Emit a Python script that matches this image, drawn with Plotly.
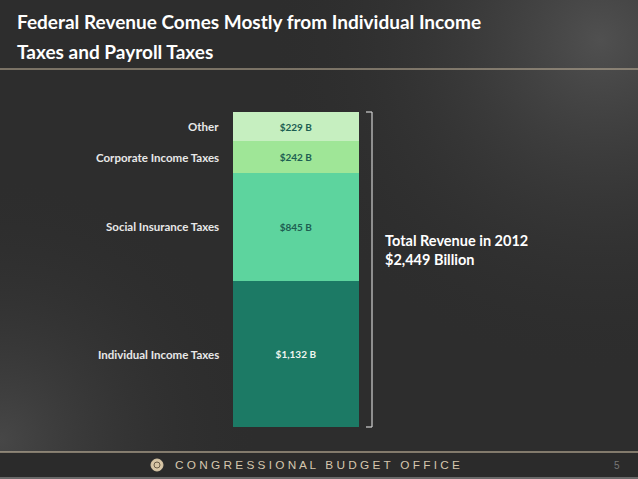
import base64
import plotly.graph_objects as go

categories = ["Individual Income Taxes", "Social Insurance Taxes", "Corporate Income Taxes", "Other"]
values = [1132, 845, 242, 229]
value_labels = ["$1,132 B", "$845 B", "$242 B", "$229 B"]
colors = ["#1c7a65", "#5dd49e", "#9fe697", "#c6efc0"]
text_colors = ["#eef5f0", "#1d5e52", "#1d5e52", "#1d5e52"]
total_label = ["Total Revenue in 2012", "$2,449 Billion"]
title_lines = ["Federal Revenue Comes Mostly from Individual Income", "Taxes and Payroll Taxes"]

W, H = 638, 479
BG = "#2e2e2e"
FONT = "Lato"

# pixel geometry of the bar area
bar_left, bar_right = 233, 359
bar_bottom_px, bar_top_px = 427, 112
total = sum(values)
bw = bar_right - bar_left
xmin = -(bar_left + bw / 2) / bw
xmax = xmin + W / bw
ppu = (bar_bottom_px - bar_top_px) / total
ymin = -(H - bar_bottom_px) / ppu
ymax = total + bar_top_px / ppu

def px(x):
    return x / W

def py(y):
    return 1 - y / H

svg = f"""<svg xmlns='http://www.w3.org/2000/svg' width='{W}' height='{H}'>
<defs>
<radialGradient id='a' cx='600' cy='40' r='330' gradientUnits='userSpaceOnUse'>
<stop offset='0' stop-color='#505050'/><stop offset='1' stop-color='#2e2e2e' stop-opacity='0'/></radialGradient>
<radialGradient id='b' cx='0' cy='440' r='260' gradientUnits='userSpaceOnUse'>
<stop offset='0' stop-color='#474747'/><stop offset='1' stop-color='#2e2e2e' stop-opacity='0'/></radialGradient>
</defs>
<rect width='{W}' height='{H}' fill='#2d2d2d'/>
<rect width='{W}' height='{H}' fill='url(#a)'/>
<rect width='{W}' height='{H}' fill='url(#b)'/>
</svg>"""
bg_src = "data:image/svg+xml;base64," + base64.b64encode(svg.encode()).decode()

fig = go.Figure()
for cat, v, lab, c, tc in zip(categories, values, value_labels, colors, text_colors):
    fig.add_trace(go.Bar(
        x=[0], y=[v], name=cat, width=1,
        marker=dict(color=c, line=dict(width=0)),
        text=["<b>" + lab + "</b>"], textposition="inside", insidetextanchor="middle",
        textfont=dict(family=FONT, size=10, color=tc),
        hoverinfo="skip", showlegend=False,
    ))

annotations = []
cum = 0
for cat, v in zip(categories, values):
    mid = cum + v / 2
    cum += v
    annotations.append(dict(
        x=px(221), xref="paper", y=mid, yref="y", text="<b>" + cat + "</b>",
        showarrow=False, xanchor="right", yanchor="middle",
        font=dict(family=FONT, size=11.5, color="#e8e8e8"),
    ))

for i, line in enumerate(total_label):
    annotations.append(dict(
        x=px(383), xref="paper", y=py(240 + 19 * i), yref="paper",
        text="<b>" + line + "</b>",
        showarrow=False, xanchor="left", yanchor="middle", align="left",
        font=dict(family=FONT, size=14.5, color="#ffffff"),
    ))

for i, line in enumerate(title_lines):
    annotations.append(dict(
        x=px(15), xref="paper", y=py(22 + 29 * i), yref="paper",
        text="<b>" + line + "</b>",
        showarrow=False, xanchor="left", yanchor="middle", align="left",
        font=dict(family=FONT, size=19, color="#ffffff"),
    ))

annotations.append(dict(
    x=px(173), xref="paper", y=py(465), yref="paper",
    text="C O N G R E S S I O N A L   B U D G E T   O F F I C E",
    showarrow=False, xanchor="left", yanchor="middle",
    font=dict(family="Liberation Sans", size=11.8, color="#d6c7ae"),
))
annotations.append(dict(
    x=px(622), xref="paper", y=py(465), yref="paper", text="5",
    showarrow=False, xanchor="right", yanchor="middle",
    font=dict(family="Liberation Sans", size=10, color="#777777"),
))

shapes = [
    dict(type="line", xref="paper", yref="paper", x0=0, x1=1, y0=py(69), y1=py(69),
         line=dict(color="#c9b99f", width=1)),
    dict(type="rect", xref="paper", yref="paper", x0=0, x1=1, y0=0, y1=py(452),
         fillcolor="#2b2b2b", line=dict(width=0), layer="below"),
    dict(type="line", xref="paper", yref="paper", x0=0, x1=1, y0=py(452), y1=py(452),
         line=dict(color="#d9c9ae", width=1.2)),
    dict(type="rect", xref="paper", yref="paper", x0=0, x1=1, y0=0, y1=py(477),
         fillcolor="#6a6a6a", line=dict(width=0), layer="below"),
    dict(type="circle", xref="paper", yref="paper", x0=px(151), x1=px(163), y0=py(471), y1=py(459),
         fillcolor="#d8c6a6", line=dict(color="#d8c6a6", width=1)),
    dict(type="circle", xref="paper", yref="paper", x0=px(154), x1=px(160), y0=py(468), y1=py(462),
         fillcolor="rgba(0,0,0,0)", line=dict(color="#6b5d48", width=1)),
    dict(type="line", xref="paper", yref="y", x0=px(372), x1=px(372), y0=0, y1=total,
         line=dict(color="#d0d0d0", width=1.2)),
    dict(type="line", xref="paper", yref="y", x0=px(366), x1=px(372), y0=total, y1=total,
         line=dict(color="#d0d0d0", width=1.2)),
    dict(type="line", xref="paper", yref="y", x0=px(366), x1=px(372), y0=0, y1=0,
         line=dict(color="#d0d0d0", width=1.2)),
]

fig.update_layout(
    width=W, height=H, margin=dict(l=0, r=0, t=0, b=0),
    paper_bgcolor=BG, plot_bgcolor="rgba(0,0,0,0)", barmode="stack", bargap=0,
    xaxis=dict(range=[xmin, xmax], visible=False, fixedrange=True),
    yaxis=dict(range=[ymin, ymax], visible=False, fixedrange=True),
    annotations=annotations, shapes=shapes,
    images=[dict(source=bg_src, xref="paper", yref="paper", x=0, y=1, sizex=1, sizey=1,
                 xanchor="left", yanchor="top", sizing="stretch", layer="below")],
    uniformtext=dict(minsize=8, mode="show"),
)

fig.write_html("out.html", config={"displayModeBar": False},
               post_script="document.body.style.margin='0';document.body.style.overflow='hidden';")
